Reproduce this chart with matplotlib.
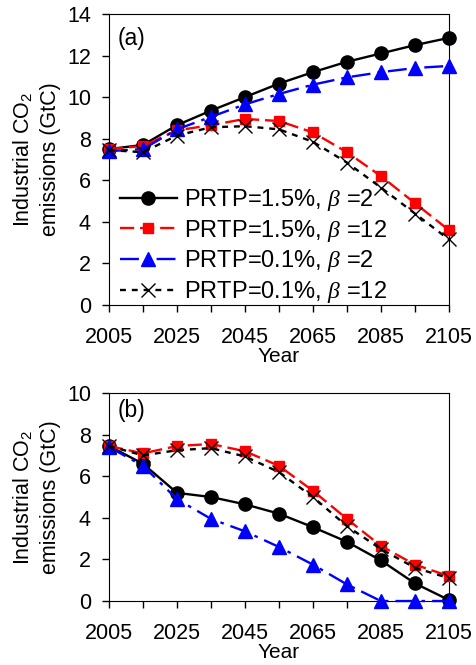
import numpy as np
import matplotlib
matplotlib.use("Agg")
import matplotlib.pyplot as plt

plt.rcParams['font.family'] = ['Liberation Sans', 'DejaVu Sans']
plt.rcParams['mathtext.fontset'] = 'custom'
plt.rcParams['mathtext.rm'] = 'Liberation Sans'
plt.rcParams['mathtext.it'] = 'Liberation Serif:italic'

years = np.arange(2005, 2106, 10)

# panel (a)
a_black = [7.5, 7.7, 8.65, 9.35, 10.0, 10.65, 11.2, 11.7, 12.1, 12.5, 12.85]
a_red = [7.5, 7.65, 8.4, 8.65, 8.95, 8.85, 8.3, 7.35, 6.2, 4.9, 3.6]
a_blue = [7.4, 7.5, 8.45, 9.05, 9.65, 10.15, 10.6, 10.95, 11.2, 11.4, 11.5]
a_cross = [7.45, 7.35, 8.15, 8.55, 8.6, 8.45, 7.85, 6.85, 5.65, 4.4, 3.15]

# panel (b)
b_black = [7.45, 6.6, 5.2, 5.0, 4.65, 4.2, 3.55, 2.85, 1.95, 0.85, 0.05]
b_red = [7.45, 7.1, 7.45, 7.55, 7.2, 6.5, 5.3, 3.95, 2.65, 1.75, 1.2]
b_blue = [7.4, 6.5, 4.9, 3.95, 3.35, 2.6, 1.75, 0.8, 0.0, 0.0, 0.0]
b_cross = [7.45, 7.0, 7.25, 7.35, 6.95, 6.2, 5.0, 3.6, 2.5, 1.6, 1.1]

labels = ["PRTP=1.5%, $\\it{\\beta}$ =2", "PRTP=1.5%, $\\it{\\beta}$ =12",
          "PRTP=0.1%, $\\it{\\beta}$ =2", "PRTP=0.1%, $\\it{\\beta}$ =12"]

styles = [
    dict(color='black', ls='-', marker='o', ms=9.5),
    dict(color='red', ls=(0, (6, 2.5)), marker='s', ms=7.5),
    dict(color='blue', ls=(0, (8, 3, 1.5, 3)), marker='^', ms=10),
    dict(color='black', ls=(0, (2.5, 2.5)), marker='x', ms=10, mew=1.0),
]

fig = plt.figure(figsize=(4.76, 6.65), dpi=100)
ax1 = fig.add_axes([0.229, 0.5414, 0.714, 0.4376])
ax2 = fig.add_axes([0.229, 0.0962, 0.714, 0.3128])


def draw(ax, series, ymax, tag, legend=False):
    for y, st, lab in zip(series, styles, labels):
        ax.plot(years, y, lw=1.7, label=lab, clip_on=False, zorder=3, **st)
    ax.set_xlim(2005, 2105)
    ax.set_ylim(0, ymax)
    ax.set_xticks(np.arange(2005, 2106, 20))
    ax.set_xticks(np.arange(2005, 2106, 10), minor=True)
    ax.set_yticks(np.arange(0, ymax + 1, 2))
    ax.tick_params(which='both', direction='out', length=5, width=1,
                   labelsize=15.5)
    ax.tick_params(axis='x', which='both', pad=11)
    ax.tick_params(axis='y', pad=8)
    ax.set_xlabel("Year", fontsize=15, labelpad=-1)
    ax.set_ylabel("Industrial CO$_2$\nemissions (GtC)", fontsize=15.5,
                  linespacing=1.4, labelpad=4)
    ax.text(0.025, 0.915, tag, transform=ax.transAxes, fontsize=16.5,
            va='center', ha='left')
    if legend:
        ax.legend(loc='lower left', bbox_to_anchor=(-0.023, -0.065),
                  frameon=False, fontsize=17, handlelength=2.4,
                  handletextpad=0.3, labelspacing=0.2, borderpad=0.3)


draw(ax1, [a_black, a_red, a_blue, a_cross], 14, "(a)", legend=True)
draw(ax2, [b_black, b_red, b_blue, b_cross], 10, "(b)")

fig.savefig("out.png", dpi=100)
